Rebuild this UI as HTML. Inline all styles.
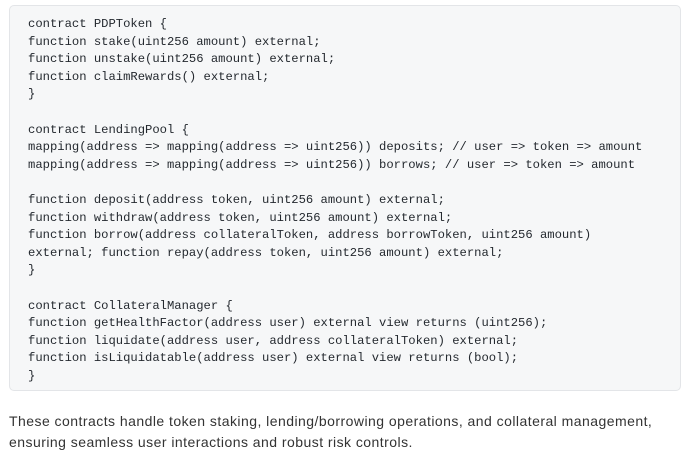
<!DOCTYPE html>
<html><head><meta charset="utf-8"><style>
body{margin:0;width:691px;height:467px;background:#fff;overflow:hidden}
.box{position:absolute;left:9px;top:5px;width:670px;height:384px;background:#f6f7f8;border:1px solid #e3e5e8;border-radius:5px}
pre{position:absolute;left:28px;top:16px;margin:0;font-family:"Liberation Mono",monospace;font-size:12.2px;line-height:17.6px;color:#24292f}
p{position:absolute;left:9px;top:411px;margin:0;width:690px;white-space:nowrap;font-family:"Liberation Sans",sans-serif;font-size:14px;letter-spacing:0.46px;line-height:20.5px;color:#333}
</style></head><body>
<div class="box"></div>
<pre>contract PDPToken {
function stake(uint256 amount) external;
function unstake(uint256 amount) external;
function claimRewards() external;
}

contract LendingPool {
mapping(address =&gt; mapping(address =&gt; uint256)) deposits; // user =&gt; token =&gt; amount
mapping(address =&gt; mapping(address =&gt; uint256)) borrows; // user =&gt; token =&gt; amount

function deposit(address token, uint256 amount) external;
function withdraw(address token, uint256 amount) external;
function borrow(address collateralToken, address borrowToken, uint256 amount)
external; function repay(address token, uint256 amount) external;
}

contract CollateralManager {
function getHealthFactor(address user) external view returns (uint256);
function liquidate(address user, address collateralToken) external;
function isLiquidatable(address user) external view returns (bool);
}</pre>
<p>These contracts handle token staking, lending/borrowing operations, and collateral management,<br>ensuring seamless user interactions and robust risk controls.</p>
</body></html>
